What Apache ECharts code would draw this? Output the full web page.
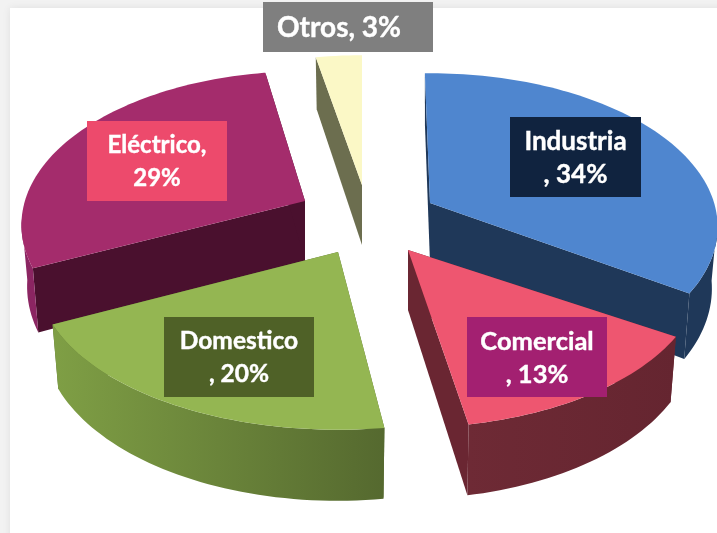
<!DOCTYPE html>
<html>
<head>
<meta charset="utf-8">
<style>
  html, body { margin: 0; padding: 0; background: #f2f2f2; }
  #main { width: 717px; height: 533px; filter: blur(0.5px); }
</style>
<script src="https://cdn.jsdelivr.net/npm/echarts@6/dist/echarts.min.js"></script>
</head>
<body>
<div id="main"></div>
<script>
// values
var categories = ['Industria', 'Comercial', 'Domestico', 'Eléctrico', 'Otros'];
var shares = [34, 13, 20, 29, 3];
var labelLines = [['Industria', ', 34%'], ['Comercial', ', 13%'], ['Domestico', ', 20%'], ['Eléctrico,', '29%'], ['Otros, 3%']];

// look of each slice
var topColors = ['#4f86cf', '#ee5670', '#94b652', '#a42c6c', '#fbf8c6'];
var cutColors = ['#1f3859', '#6a2632', '#55692f', '#4a102e', '#6c6e4f'];
var sideColors = [['#1f3859', '#1f3859'], ['#6e2a35', '#652530'], ['#7f9f45', '#55692f'], ['#8b2562', '#8b2562'], ['#6c6e4f', '#6c6e4f']];
var labelColors = ['#10233f', '#a32071', '#4f6127', '#ed4a6c', '#7f7f7f'];
var labelSizes = [26, 25.5, 24.5, 24, 28];
var labelShift = [0, 0, 0, 0, -9];

// where each exploded slice has its tip, and label boxes [x, y, w, h]
var tips = [[430, 203], [408, 250], [338, 252], [305, 201], [362, 185]];
var boxes = [[510, 117, 131, 80], [467, 317, 140, 80], [164, 317, 150, 80], [87, 121, 140, 80], [263, 2, 170, 50]];

var RX = 287, RY = 150, PERSP = 0.156, DEPTH = 60, CONVERGE = 0.02;

// small per slice fixes for the picture's perspective: degrees at both edges, width factor
var edgeFix = [[-1.2, -0.2], [-1.6, -1.1], [1.5, -0.3], [1.6, 1.5], [0.2, 0]];
var widthFix = [0.99, 1.01, 1.035, 0.976, 1];

var total = shares.reduce(function (a, b) { return a + b; }, 0);
var starts = [];
shares.reduce(function (acc, v, i) { starts[i] = acc; return acc + v; }, 0);

function project(deg, i) {
  var t = deg * Math.PI / 180;
  var u = Math.sin(t), v = -Math.cos(t);
  var s = 1 / (1 - PERSP * v);
  var x = tips[i][0] + RX * widthFix[i] * u * s;
  return {
    x: x,
    y: tips[i][1] + RY * v * s,
    v: v,
    bx: x - (x - tips[i][0]) * CONVERGE,
    by: tips[i][1] + RY * v * s + DEPTH * s
  };
}

function renderSlice(params, api) {
  var i = params.dataIndex;
  var a0 = starts[i] / total * 360 + edgeFix[i][0];
  var a1 = (starts[i] + api.value(0)) / total * 360 + edgeFix[i][1];
  var tip = tips[i];
  var mid = project((a0 + a1) / 2, i);
  var z = Math.round(mid.v * 100) + 100;
  var arc = [];
  for (var d = a0; d < a1; d += 1.5) arc.push(project(d, i));
  arc.push(project(a1, i));

  var first = arc[0], last = arc[arc.length - 1];
  var children = [];
  // two cut faces
  [first, last].forEach(function (p) {
    children.push({
      type: 'polygon', z2: z,
      shape: { points: [[tip[0], tip[1]], [p.x, p.y], [p.bx, p.by], [tip[0], tip[1] + DEPTH]] },
      style: { fill: cutColors[i] }
    });
  });
  // rim, only the part turned to the viewer
  var front = arc.filter(function (p) { return p.v > 0.1; });
  if (front.length > 1) {
    var pts = front.map(function (p) { return [p.x, p.y]; });
    for (var k = front.length - 1; k >= 0; k--) pts.push([front[k].bx, front[k].by]);
    children.push({
      type: 'polygon', z2: z + 1,
      shape: { points: pts },
      style: {
        fill: new echarts.graphic.LinearGradient(0, 0, 1, 0, [
          { offset: 0, color: sideColors[i][0] },
          { offset: 1, color: sideColors[i][1] }
        ])
      }
    });
  }
  // top face
  children.push({
    type: 'polygon', z2: z + 2,
    shape: { points: [[tip[0], tip[1]]].concat(arc.map(function (p) { return [p.x, p.y]; })) },
    style: { fill: topColors[i] }
  });
  return { type: 'group', children: children };
}

function renderLabel(params, api) {
  var i = params.dataIndex;
  var b = boxes[i];
  return {
    type: 'group',
    children: [{
      type: 'rect', z2: 300,
      shape: { x: b[0], y: b[1], width: b[2], height: b[3] },
      style: { fill: labelColors[i] }
    }, {
      type: 'text', z2: 301,
      x: b[0] + b[2] / 2 + labelShift[i], y: b[1] + b[3] / 2 + 1,
      style: {
        text: labelLines[i].join('\n'),
        fill: '#fff',
        stroke: '#fff',
        lineWidth: 0.4,
        font: 'bold ' + labelSizes[i] + 'px Lato',
        lineHeight: 33,
        align: 'center',
        verticalAlign: 'middle'
      }
    }]
  };
}

var chart = echarts.init(document.getElementById('main'));
chart.setOption({
  animation: false,
  backgroundColor: '#f2f2f2',
  graphic: [{
    type: 'rect', z: -1,
    shape: { x: 10, y: 8, width: 720, height: 540 },
    style: { fill: '#fff', shadowBlur: 8, shadowColor: 'rgba(0,0,0,0.08)' }
  }],
  series: [{
    type: 'custom',
    name: 'Consumo',
    coordinateSystem: 'none',
    renderItem: renderSlice,
    data: shares.map(function (v, i) { return { name: categories[i], value: [v] }; })
  }, {
    type: 'custom',
    name: 'Etiquetas',
    coordinateSystem: 'none',
    z: 3,
    renderItem: renderLabel,
    data: shares.map(function (v, i) { return { name: categories[i], value: [v] }; })
  }]
});
</script>
</body>
</html>
